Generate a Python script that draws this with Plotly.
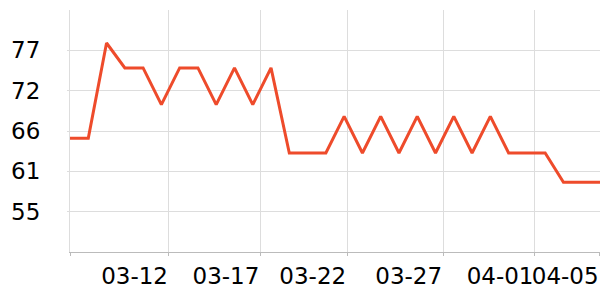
import plotly.graph_objects as go

dates = [
    "2024-03-07", "2024-03-08", "2024-03-09", "2024-03-10", "2024-03-11",
    "2024-03-12", "2024-03-13", "2024-03-14", "2024-03-15", "2024-03-16",
    "2024-03-17", "2024-03-18", "2024-03-19", "2024-03-20", "2024-03-21",
    "2024-03-22", "2024-03-23", "2024-03-24", "2024-03-25", "2024-03-26",
    "2024-03-27", "2024-03-28", "2024-03-29", "2024-03-30", "2024-03-31",
    "2024-04-01", "2024-04-02", "2024-04-03", "2024-04-04", "2024-04-05",
]
values = [
    65, 65, 78, 74.6, 74.6, 69.6, 74.6, 74.6, 69.6, 74.6,
    69.6, 74.6, 63, 63, 63, 68, 63, 68, 63, 68,
    63, 68, 63, 68, 63, 63, 63, 59, 59, 59,
]

x_tick_vals = ["2024-03-07", "2024-03-12 10:00", "2024-03-17 10:00", "2024-03-22 04:00",
               "2024-03-27 10:00", "2024-04-01 10:00", "2024-04-04 23:30"]
x_tick_text = ["", "03-12", "03-17", "03-22", "03-27", "04-01", "04-05"]

y_tick_vals = [55, 60.5, 66, 71.5, 77]
y_tick_text = ["55", "61", "66", "72", "77"]

fig = go.Figure()
fig.add_trace(go.Scatter(
    x=dates, y=values, mode="lines",
    line=dict(color="#EE4B2B", width=3),
    hoverinfo="skip",
))

font = dict(family="DejaVu Sans", size=23, color="#000000")

fig.update_layout(
    width=600, height=300,
    margin=dict(l=70, r=0, t=10, b=48),
    paper_bgcolor="white", plot_bgcolor="white",
    showlegend=False,
    font=font,
    xaxis=dict(
        type="date",
        range=["2024-03-07", "2024-04-05"],
        tickmode="array", tickvals=x_tick_vals, ticktext=x_tick_text,
        tickangle=0,
        ticklabelposition="outside left",
        showgrid=True, gridcolor="#dddddd", gridwidth=1,
        showline=True, linecolor="#bbbbbb", linewidth=1,
        ticks="outside", ticklen=3, tickcolor="#bbbbbb",
        ticklabelstandoff=3,
        zeroline=False,
        tickfont=font,
    ),
    yaxis=dict(
        range=[49.5, 82.5],
        tickmode="array", tickvals=y_tick_vals, ticktext=y_tick_text,
        showgrid=True, gridcolor="#dddddd", gridwidth=1,
        showline=True, linecolor="#dddddd", linewidth=1,
        ticks="outside", ticklen=2, tickcolor="#dddddd",
        ticklabelstandoff=22,
        zeroline=False,
        tickfont=font,
    ),
)

fig.write_html("out.html")
